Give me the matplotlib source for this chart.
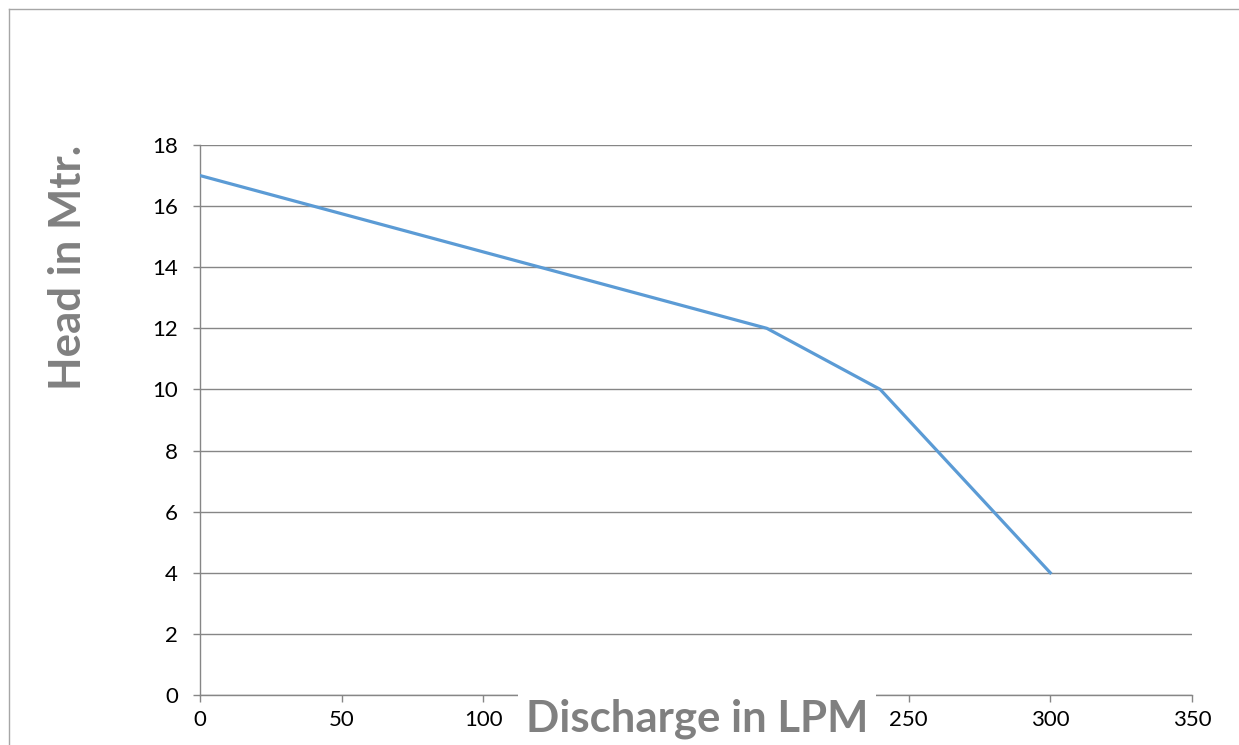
import matplotlib
matplotlib.use('agg')
import matplotlib.pyplot as plt
from matplotlib.lines import Line2D
from matplotlib.patches import Rectangle

# pump curve values
discharge = [0, 200, 240, 300]
head = [17, 12, 10, 4]
x_ticks = [0, 50, 100, 150, 200, 250, 300, 350]
# 150 and 200 sit behind the x title box in the original
x_labels = ['0', '50', '100', '', '', '250', '300', '350']
y_ticks = [0, 2, 4, 6, 8, 10, 12, 14, 16, 18]

W, H = 1239, 745
plt.rcParams['font.family'] = ['Lato', 'DejaVu Sans']

fig = plt.figure(figsize=(W / 100, H / 100), dpi=100)
fig.patch.set_facecolor('white')

# plot area in pixels: x 200..1192, y 145..695
ax = fig.add_axes([200 / W, (H - 695) / H, (1192 - 200) / W, (695 - 145) / H])

grid_col = '#868686'
ax.plot(discharge, head, color='#5B9BD5', linewidth=2.3, solid_joinstyle='miter', zorder=3)

ax.set_xlim(0, 350)
ax.set_ylim(0, 18)
ax.set_xticks(x_ticks)
ax.set_xticklabels(x_labels)
ax.set_yticks(y_ticks)
ax.grid(axis='y', color=grid_col, linewidth=1)
ax.set_axisbelow(True)

for side in ['top', 'right']:
    ax.spines[side].set_visible(False)
for side in ['left', 'bottom']:
    ax.spines[side].set_color(grid_col)
    ax.spines[side].set_linewidth(1)

ax.tick_params(axis='both', colors=grid_col, labelcolor='black', labelsize=16,
               length=5, width=1)
ax.tick_params(axis='x', pad=6)
ax.tick_params(axis='y', pad=11)

# outer chart border (left and top visible)
fig.add_artist(Line2D([8.5 / W, 8.5 / W], [0, (H - 8.5) / H], color='#a6a6a6', linewidth=1))
fig.add_artist(Line2D([8.5 / W, 1], [(H - 8.5) / H, (H - 8.5) / H], color='#a6a6a6', linewidth=1))

# white box behind the x title, as in the original
fig.add_artist(Rectangle((518 / W, 0), (876 - 518) / W, (H - 687) / H,
                         facecolor='white', edgecolor='none', zorder=3))
fig.text(697 / W, (H - 719) / H, 'Discharge in LPM', ha='center', va='center',
         fontsize=31.5, fontweight='bold', color='#808080', zorder=4)
fig.text(68 / W, (H - 267) / H, 'Head in Mtr.', ha='center', va='center',
         rotation=90, fontsize=31.5, fontweight='bold', color='#808080')

fig.savefig('out.png', dpi=100)
